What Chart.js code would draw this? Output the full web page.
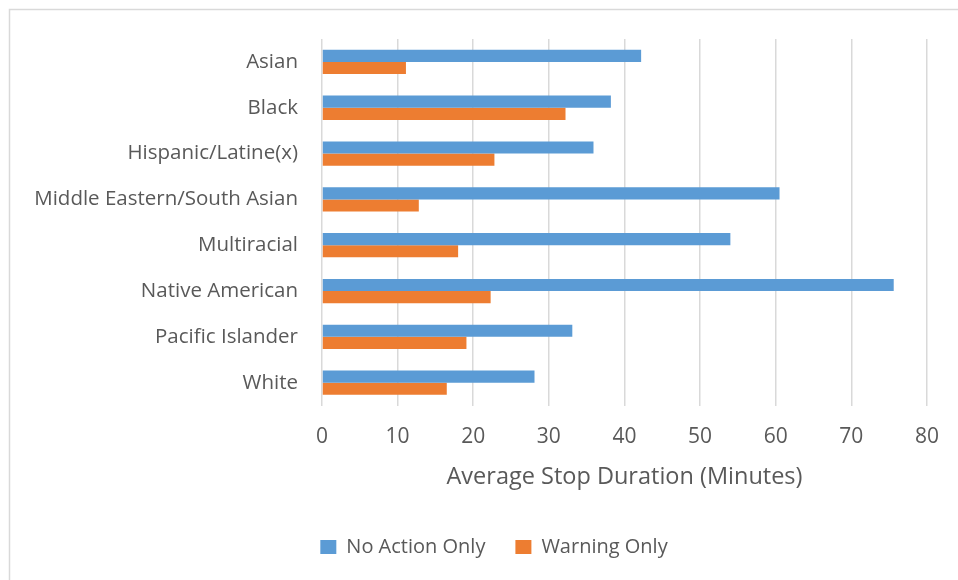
<!DOCTYPE html>
<html>
<head>
<meta charset="utf-8">
<script src="https://cdn.jsdelivr.net/npm/chart.js@4.4.1/dist/chart.umd.min.js"></script>
<style>
  html, body { margin: 0; padding: 0; background: #ffffff; }
  #wrap { width: 958px; height: 580px; position: relative; }
</style>
</head>
<body>
<div id="wrap"><canvas id="chart"></canvas></div>
<script>
// --- data ---
const groups = ['Asian', 'Black', 'Hispanic/Latine(x)', 'Middle Eastern/South Asian',
  'Multiracial', 'Native American', 'Pacific Islander', 'White'];
const noActionOnly = [42.2, 38.2, 35.9, 60.5, 54.0, 75.6, 33.1, 28.1];
const warningOnly = [11.1, 32.2, 22.8, 12.8, 18.0, 22.3, 19.1, 16.5];
const xTicks = [0, 10, 20, 30, 40, 50, 60, 70, 80];

const textColor = '#595959';
const fontFamily = '"Open Sans", "Liberation Sans", sans-serif';

// light frame round the chart, like the office export
const framePlugin = {
  id: 'frame',
  beforeDraw(chart) {
    const ctx = chart.ctx;
    ctx.save();
    ctx.fillStyle = '#ffffff';
    ctx.fillRect(0, 0, chart.width, chart.height);
    ctx.strokeStyle = '#d9d9d9';
    ctx.lineWidth = 1.5;
    ctx.strokeRect(9.5, 9.5, chart.width + 40, chart.height + 40);
    ctx.restore();
  }
};

// the legend in the reference is centred on the whole (wider) chart box
const legendShift = {
  id: 'legendShift',
  afterLayout(chart) {
    chart.legend.left += 23;
    chart.legend.right += 23;
  }
};

const ctx = document.getElementById('chart').getContext('2d');
new Chart(ctx, {
  type: 'bar',
  data: {
    labels: groups,
    datasets: [{
      label: 'No Action Only',
      data: noActionOnly,
      backgroundColor: '#5b9bd5',
      borderWidth: 0
    }, {
      label: 'Warning Only',
      data: warningOnly,
      backgroundColor: '#ed7d31',
      borderWidth: 0
    }]
  },
  options: {
    indexAxis: 'y',
    responsive: true,
    maintainAspectRatio: false,
    animation: false,
    layout: { padding: { left: 15, right: 31, top: 39, bottom: 13 } },
    datasets: { bar: { categoryPercentage: 0.53, barPercentage: 1.0 } },
    scales: {
      x: {
        min: 0,
        max: 80,
        afterBuildTicks: (scale) => { scale.ticks = xTicks.map(v => ({ value: v })); },
        grid: { color: '#d9d9d9', lineWidth: 1.5, drawTicks: false },
        border: { display: false },
        ticks: { color: textColor, padding: 19, font: { family: fontFamily, size: 21 } },
        title: {
          display: true,
          text: 'Average Stop Duration (Minutes)',
          color: textColor,
          font: { family: fontFamily, size: 23.5 },
          padding: { top: -6, bottom: 16 }
        }
      },
      y: {
        afterFit: (scale) => { scale.width = 307; },
        grid: { display: false, drawTicks: false },
        border: { display: false },
        ticks: { color: textColor, padding: 24, font: { family: fontFamily, size: 20.5 } }
      }
    },
    plugins: {
      legend: {
        position: 'bottom',
        labels: {
          color: textColor,
          boxWidth: 16,
          boxHeight: 14,
          padding: 30,
          font: { family: fontFamily, size: 20 }
        }
      },
      tooltip: { enabled: false }
    }
  },
  plugins: [framePlugin, legendShift]
});
</script>
</body>
</html>
